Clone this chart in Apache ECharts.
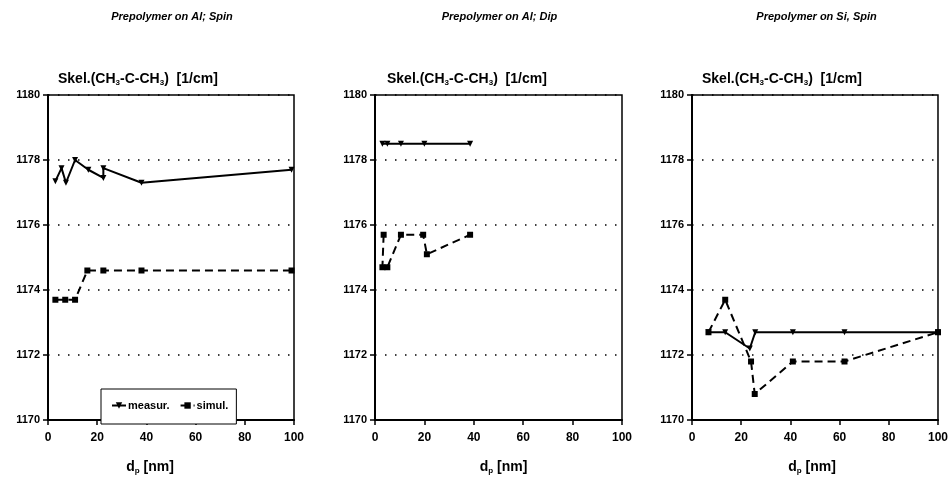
<!DOCTYPE html>
<html>
<head>
<meta charset="utf-8">
<script src="https://cdn.jsdelivr.net/npm/echarts@6/dist/echarts.min.js"></script>
<style>
  html, body { margin: 0; padding: 0; background: #fff; }
  #chart { width: 951px; height: 480px; }
</style>
</head>
<body>
<div id="chart"></div>
<script>
// panel titles
const panelTitles = ["Prepolymer on Al; Spin", "Prepolymer on Al; Dip", "Prepolymer on Si, Spin"];

// Al, spin
const alSpinMeasX = [3, 5.5, 7.3, 11, 16.4, 22.5, 22.5, 38, 99];
const alSpinMeasY = [1177.35, 1177.75, 1177.3, 1178.0, 1177.7, 1177.45, 1177.75, 1177.3, 1177.7];
const alSpinSimX = [3, 7, 11, 16, 22.5, 38, 99];
const alSpinSimY = [1173.7, 1173.7, 1173.7, 1174.6, 1174.6, 1174.6, 1174.6];

// Al, dip
const alDipMeasX = [3, 5, 10.5, 20, 38.5];
const alDipMeasY = [1178.5, 1178.5, 1178.5, 1178.5, 1178.5];
const alDipSimX = [3.5, 3, 5, 10.5, 19.5, 21, 38.5];
const alDipSimY = [1175.7, 1174.7, 1174.7, 1175.7, 1175.7, 1175.1, 1175.7];

// Si, spin
const siSpinMeasX = [6.7, 13.5, 23.5, 25.7, 41, 62, 100];
const siSpinMeasY = [1172.7, 1172.7, 1172.2, 1172.7, 1172.7, 1172.7, 1172.7];
const siSpinSimX = [6.7, 13.5, 24, 25.5, 41, 62, 100];
const siSpinSimY = [1172.7, 1173.7, 1171.8, 1170.8, 1171.8, 1171.8, 1172.7];

const xTicks = [0, 20, 40, 60, 80, 100];
const yTicks = [1170, 1172, 1174, 1176, 1178, 1180];

const panels = [
  { meas: [alSpinMeasX, alSpinMeasY], sim: [alSpinSimX, alSpinSimY] },
  { meas: [alDipMeasX, alDipMeasY], sim: [alDipSimX, alDipSimY] },
  { meas: [siSpinMeasX, siSpinMeasY], sim: [siSpinSimX, siSpinSimY] }
];

const pairs = (xs, ys) => xs.map((x, i) => [x, ys[i]]);

const grids = [
  { left: 48, top: 95, width: 246, height: 329 },
  { left: 375, top: 95, width: 247, height: 329 },
  { left: 692, top: 95, width: 247, height: 329 }
];
// small shifts of the axis names, as in the picture
const nameShift = [-21, 5, -3];
const yNameLeft = [53, 382, 697];

const font = "Liberation Sans";
const richName = {
  b: { fontFamily: font, fontWeight: "bold", fontSize: 14, color: "#000" },
  s: { fontFamily: font, fontWeight: "bold", fontSize: 8, color: "#000", padding: [7, 0, 0, 0] }
};

const titles = [];
panelTitles.forEach((t, i) => {
  const g = grids[i];
  titles.push({
    text: t,
    left: g.left + g.width / 2 - 4,
    top: 6,
    textAlign: "center",
    textStyle: { fontFamily: font, fontWeight: "bold", fontStyle: "italic", fontSize: 11, color: "#000" }
  });
  titles.push({
    text: "{b|Skel.(CH}{s|3}{b|-C-CH}{s|3}{b|)  [1/cm]}",
    left: yNameLeft[i],
    top: 67,
    textStyle: { rich: richName }
  });
});

const option = {
  animation: false,
  backgroundColor: "#fff",
  title: titles,
  legend: {
    data: ["measur.", "simul."],
    left: 101,
    top: 389,
    width: 140,
    padding: [11, 8, 13, 10],
    itemGap: 10,
    itemWidth: 14,
    itemHeight: 8,
    borderColor: "#000",
    borderWidth: 1,
    backgroundColor: "#fff",
    textStyle: { fontFamily: font, fontWeight: "bold", fontSize: 11, color: "#000", padding: [0, 0, 0, -3] }
  },
  grid: grids.map(g => Object.assign({ show: true, borderColor: "#000", borderWidth: 1.5, backgroundColor: "transparent" }, g)),
  xAxis: grids.map((g, i) => ({
    type: "value",
    gridIndex: i,
    min: xTicks[0],
    max: xTicks[xTicks.length - 1],
    interval: 20,
    name: "{b|d}{s|p}{b| [nm]}",
    nameLocation: "middle",
    nameGap: 40,
    nameTextStyle: {
      rich: richName,
      padding: nameShift[i] < 0 ? [0, -2 * nameShift[i], 0, 0] : [0, 0, 0, 2 * nameShift[i]]
    },
    axisLine: { lineStyle: { color: "#000", width: 2 } },
    axisTick: { show: true, length: 5, lineStyle: { color: "#000", width: 1.5 } },
    axisLabel: { fontFamily: font, fontWeight: "bold", fontSize: 12, color: "#000", margin: 12 },
    splitLine: { show: false }
  })),
  yAxis: grids.map((g, i) => ({
    type: "value",
    gridIndex: i,
    min: yTicks[0],
    max: yTicks[yTicks.length - 1],
    interval: 2,
    axisLine: { show: true, lineStyle: { color: "#000", width: 2 } },
    axisTick: { show: true, length: 5, lineStyle: { color: "#000", width: 1.5 } },
    axisLabel: { fontFamily: font, fontWeight: "bold", fontSize: 11, color: "#000", margin: 8, formatter: v => String(v) },
    splitLine: { show: true, lineStyle: { color: "#000", width: 1.5, type: [1.5, 8.5] } }
  })),
  series: []
};

panels.forEach((p, i) => {
  option.series.push({
    name: "measur.",
    type: "line",
    xAxisIndex: i,
    yAxisIndex: i,
    data: pairs(p.meas[0], p.meas[1]),
    symbol: "triangle",
    symbolRotate: 180,
    symbolSize: 6,
    lineStyle: { color: "#000", width: 2 },
    itemStyle: { color: "#000" }
  });
  option.series.push({
    name: "simul.",
    type: "line",
    xAxisIndex: i,
    yAxisIndex: i,
    data: pairs(p.sim[0], p.sim[1]),
    symbol: "rect",
    symbolSize: 6,
    lineStyle: { color: "#000", width: 2, type: [8, 5] },
    itemStyle: { color: "#000" }
  });
});

const chart = echarts.init(document.getElementById("chart"));
chart.setOption(option);
</script>
</body>
</html>
